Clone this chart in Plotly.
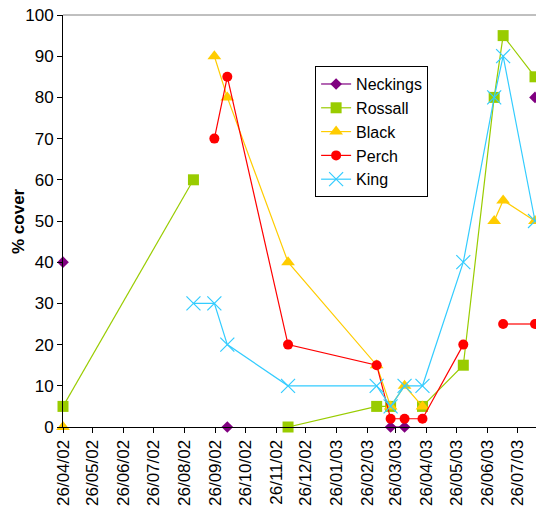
import plotly.graph_objects as go

dates = ["2002-04-26", "2002-09-04", "2002-09-25", "2002-10-08", "2002-12-08",
         "2003-03-07", "2003-03-21", "2003-04-04", "2003-04-22", "2003-06-02",
         "2003-07-03", "2003-07-12", "2003-08-13"]

neckings = [40, None, None, 0, None, None, 0, 0, None, None, None, None, 80]
rossall = [5, 60, None, None, 0, 5, 5, None, 5, 15, 80, 95, 85]
black = [0, None, 90, 80, 40, 15, 5, 10, 5, None, 50, 55, 50]
perch = [None, None, 70, 85, 20, 15, 2, 2, 2, 20, None, 25, 25]
king = [None, 30, 30, 20, 10, 10, 5, 10, 10, 40, 80, 90, 50]

tick_dates = ["2002-04-26", "2002-05-26", "2002-06-26", "2002-07-26", "2002-08-26",
              "2002-09-26", "2002-10-26", "2002-11-26", "2002-12-26", "2003-01-26",
              "2003-02-26", "2003-03-26", "2003-04-26", "2003-05-26", "2003-06-26",
              "2003-07-26"]
tick_labels = ["26/04/02", "26/05/02", "26/06/02", "26/07/02", "26/08/02",
               "26/09/02", "26/10/02", "26/11/02", "26/12/02", "26/01/03",
               "26/02/03", "26/03/03", "26/04/03", "26/05/03", "26/06/03",
               "26/07/03"]

series = [
    ("Neckings", neckings, "#800080", dict(symbol="diamond", size=9)),
    ("Rossall", rossall, "#99CC00", dict(symbol="square", size=11)),
    ("Black", black, "#FFCC00", dict(symbol="triangle-up", size=12)),
    ("Perch", perch, "#FF0000", dict(symbol="circle", size=10)),
    ("King", king, "#33CCFF", dict(symbol="x-thin-open", size=14, line=dict(width=1.2, color="#33CCFF"))),
]

fig = go.Figure()
for name, vals, color, mk in series:
    marker = dict(color=color, **mk)
    fig.add_trace(go.Scatter(
        x=dates, y=vals, name=name, mode="lines+markers",
        line=dict(color=color, width=1.2), marker=marker,
        connectgaps=False, cliponaxis=False,
    ))

font = "Arial, Liberation Sans, sans-serif"
fig.update_layout(
    width=536, height=516,
    margin=dict(l=63, r=0, t=15, b=89),
    paper_bgcolor="white", plot_bgcolor="white",
    font=dict(family=font, size=17, color="black"),
    showlegend=True,
    legend=dict(x=0.533, y=0.876, xanchor="left", yanchor="top",
                bgcolor="white", bordercolor="black", borderwidth=1,
                font=dict(size=16)),
    xaxis=dict(
        type="date", range=["2002-04-26", "2003-08-14"],
        tickvals=tick_dates, ticktext=tick_labels,
        tickangle=-90, showgrid=False, zeroline=False, automargin=False,
        showline=True, linecolor="black", linewidth=1,
        ticks="outside", ticklen=5, tickcolor="black",
        tickfont=dict(size=17),
    ),
    yaxis=dict(
        range=[0, 100], dtick=10, showgrid=False, zeroline=False, automargin=False,
        showline=True, linecolor="black", linewidth=1,
        ticks="outside", ticklen=5, tickcolor="black",
        tickfont=dict(size=17),
    ),
    shapes=[dict(type="line", xref="paper", yref="paper", x0=0, x1=1, y0=1, y1=1,
                 line=dict(color="#808080", width=1))],
    annotations=[dict(text="<b>% cover</b>", textangle=-90, xref="paper", yref="paper",
                      x=(18 - 63) / 473, y=0.5, xanchor="center", yanchor="middle",
                      showarrow=False, font=dict(size=17))],
)

fig.write_html("out.html",
               config={"displayModeBar": False},
               post_script="document.body.style.margin='0';document.body.style.overflow='hidden';")
